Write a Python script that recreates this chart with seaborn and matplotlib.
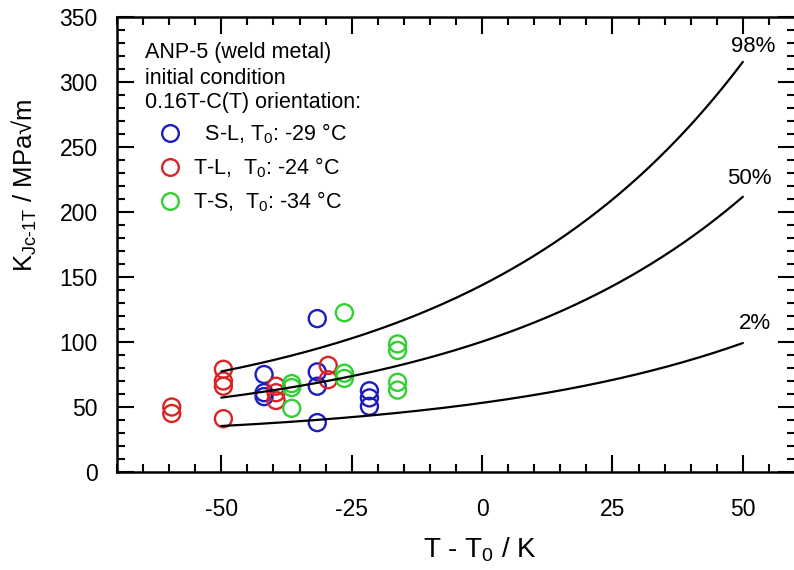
import numpy as np
import pandas as pd
import matplotlib
matplotlib.use("Agg")
import matplotlib.pyplot as plt
from matplotlib.ticker import MultipleLocator
import seaborn as sns

# ---- measured fracture toughness, 1T-equivalent (T - T0 in K, K_Jc in MPa*sqrt(m)) ----
sl_label = "  S-L, T$_\\mathregular{0}$: -29 °C"
tl_label = "T-L,  T$_\\mathregular{0}$: -24 °C"
ts_label = "T-S,  T$_\\mathregular{0}$: -34 °C"

sl_dT = [-41.8, -41.8, -41.8, -31.6, -31.6, -31.6, -31.6, -21.6, -21.6, -21.6]
sl_K = [75, 61, 58, 118, 77, 66, 38, 62.5, 57, 50.5]

tl_dT = [-59.5, -59.5, -49.6, -49.6, -49.6, -49.6, -39.5, -39.5, -39.5, -29.5, -29.5]
tl_K = [50, 45, 79, 70, 66, 41, 66, 61, 55, 82, 71]

ts_dT = [-36.5, -36.5, -36.5, -26.4, -26.4, -26.4, -16.2, -16.2, -16.2, -16.2]
ts_K = [68, 65, 49, 122.5, 76, 72, 98.5, 93.5, 69, 63]

# ---- master curve tolerance bounds (ASTM E1921) ----
bound_probs = [0.02, 0.50, 0.98]
bound_labels = ["2%", "50%", "98%"]
dT_range = [-50, 50]

header_lines = ["ANP-5 (weld metal)", "initial condition", "0.16T-C(T) orientation:"]
xticks = [-50, -25, 0, 25, 50]
yticks = [0, 50, 100, 150, 200, 250, 300, 350]

series_order = [sl_label, tl_label, ts_label]
colors = {sl_label: "#1c1cc4", tl_label: "#d82424", ts_label: "#30d030"}

# ---- tidy tables ----
points = pd.DataFrame({
    "dT": sl_dT + tl_dT + ts_dT,
    "K": sl_K + tl_K + ts_K,
    "series": [sl_label] * len(sl_dT) + [tl_label] * len(tl_dT) + [ts_label] * len(ts_dT),
})

dT_grid = np.linspace(dT_range[0], dT_range[1], 201)
K0 = 31.0 + 77.0 * np.exp(0.019 * dT_grid)
curves = pd.concat([
    pd.DataFrame({"dT": dT_grid,
                  "K": 20.0 + (K0 - 20.0) * np.log(1.0 / (1.0 - p)) ** 0.25,
                  "bound": lab})
    for p, lab in zip(bound_probs, bound_labels)
], ignore_index=True)

# ---- style ----
sns.set_theme(style="ticks")
plt.rcParams["font.family"] = ["Liberation Sans", "DejaVu Sans"]
plt.rcParams["mathtext.fontset"] = "custom"
plt.rcParams["mathtext.rm"] = "Liberation Sans"
plt.rcParams["axes.unicode_minus"] = False
for key in ["text.color", "axes.labelcolor", "xtick.color", "ytick.color", "axes.edgecolor"]:
    plt.rcParams[key] = "black"

fig = plt.figure(figsize=(7.94, 5.70), dpi=100)
ax = fig.add_axes([117 / 794, 98 / 570, 678 / 794, 455 / 570])

sns.lineplot(data=curves, x="dT", y="K", units="bound", estimator=None,
             color="black", linewidth=1.6, ax=ax, legend=False)

sns.scatterplot(data=points, x="dT", y="K", hue="series", palette=colors,
                hue_order=series_order, marker="o", s=150, linewidth=1.7, ax=ax)
# hollow circles: edge colour from the palette, empty face
for coll in ax.collections:
    fc = coll.get_facecolors()
    coll.set_edgecolors(fc)
    coll.set_facecolors("none")

ax.set_xlim(-70, 60)
ax.set_ylim(0, 350)
ax.xaxis.set_minor_locator(MultipleLocator(5))
ax.yaxis.set_minor_locator(MultipleLocator(10))
ax.set_xticks(xticks)
ax.set_yticks(yticks)

for s in ax.spines.values():
    s.set_linewidth(1.8)
ax.tick_params(which="both", direction="in", top=True, right=True, width=1.5)
ax.tick_params(which="major", length=12, labelsize=16.5)
ax.tick_params(which="minor", length=5.8)
ax.tick_params(axis="y", which="major", pad=14)
ax.tick_params(axis="x", which="major", pad=19)

ax.set_xlabel("T - T$_\\mathregular{0}$ / K", fontsize=20)
ax.set_ylabel("K$_\\mathregular{Jc‐1T}$ / MPa√m", fontsize=18.5)
ax.xaxis.set_label_coords(0.535, -0.14)
ax.yaxis.set_label_coords(-0.115, 0.63)

# header block
for txt, y in zip(header_lines, [323, 303, 284]):
    ax.text(-64.6, y, txt, fontsize=15.5, ha="left", va="center")

# bound labels at the curve ends
for txt, (x, y) in zip(["98%", "50%", "2%"], [(51.9, 327), (51.3, 226), (52.4, 114.6)]):
    ax.text(x, y, txt, fontsize=16, ha="center", va="center")

sns.move_legend(ax, loc="upper left", bbox_to_anchor=(0.062, 0.770),
                frameon=False, title=None, fontsize=15.5, borderpad=0,
                borderaxespad=0, handlelength=1.0, handletextpad=0.6,
                labelspacing=0.44)
leg = ax.get_legend()
for h, t in zip(leg.legend_handles, leg.get_texts()):
    col = colors[t.get_text()]
    if hasattr(h, "set_markeredgecolor"):
        h.set_markeredgecolor(col)
        h.set_markerfacecolor("none")
        h.set_markeredgewidth(1.7)
        h.set_markersize(12)
    else:
        h.set_edgecolor(col)
        h.set_facecolor("none")
        h.set_linewidth(1.7)

fig.savefig("out.png", dpi=100, facecolor="white")
